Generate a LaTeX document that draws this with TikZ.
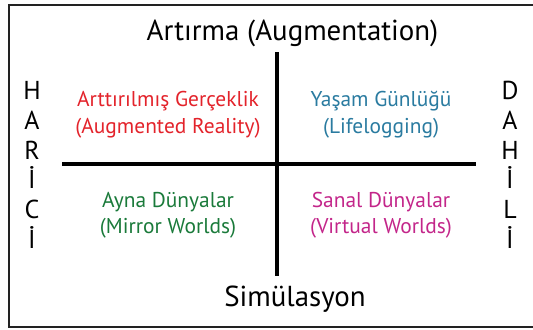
\documentclass[tikz,border=0pt]{standalone}
\usepackage{fontspec}
\setmainfont{PT Sans}
\definecolor{arred}{HTML}{E3232B}
\definecolor{lgblue}{HTML}{2A7BA0}
\definecolor{mwgreen}{HTML}{1A7A3A}
\definecolor{vwmag}{HTML}{C3268A}
\definecolor{frame}{HTML}{222222}
\tikzset{
  axislabel/.style={font=\fontsize{29}{32}\selectfont, text=black, inner sep=0pt, anchor=base},
  quadtext/.style={font=\fontsize{21.5}{24}\selectfont, inner sep=0pt, anchor=base},
  sideletter/.style={font=\fontsize{26}{28}\selectfont, text=black, inner sep=0pt, anchor=base},
  axisline/.style={line width=4bp, draw=black},
}
\begin{document}
\begin{tikzpicture}[x=1bp,y=-1bp]
\useasboundingbox (0,0) rectangle (533,329);
\begin{scope}
\clip (0,0) rectangle (533,329);
\draw[frame, line width=2.2bp] (9,5) rectangle (545,327);
\end{scope}
% axes
\coordinate (vtop) at (276.5,52);
\coordinate (vbot) at (276.5,276);
\coordinate (hleft) at (62,163.5);
\coordinate (hright) at (475.5,163.5);
\draw[axisline] (vtop) -- (vbot);
\draw[axisline] (hleft) -- (hright);
% axis labels
\node[axislabel] (aug) at (292.5,40.5) {Artırma (Augmentation)};
\node[axislabel] (sim) at (295,306.5) {Simülasyon};
% quadrants
\node[quadtext, text=arred] (ar1) at (168,106) {Arttırılmış Gerçeklik};
\node[quadtext, text=arred] (ar2) at (168,133) {(Augmented Reality)};
\node[quadtext, text=lgblue] (lg1) at (381,106) {Yaşam Günlüğü};
\node[quadtext, text=lgblue] (lg2) at (381,133) {(Lifelogging)};
\node[quadtext, text=mwgreen] (mw1) at (168,207) {Ayna Dünyalar};
\node[quadtext, text=mwgreen] (mw2) at (168,233) {(Mirror Worlds)};
\node[quadtext, text=vwmag] (vw1) at (381,207) {Sanal Dünyalar};
\node[quadtext, text=vwmag] (vw2) at (381,233) {(Virtual Worlds)};
% side letters
\foreach \l [count=\i from 0] in {H,A,R,İ,C,İ}
  \node[sideletter] (hl\i) at (32,99.5+29.8*\i) {\l};
\foreach \l [count=\i from 0] in {D,A,H,İ,L,İ}
  \node[sideletter] (dl\i) at (510,99.5+29.8*\i) {\l};
\end{tikzpicture}
\end{document}
